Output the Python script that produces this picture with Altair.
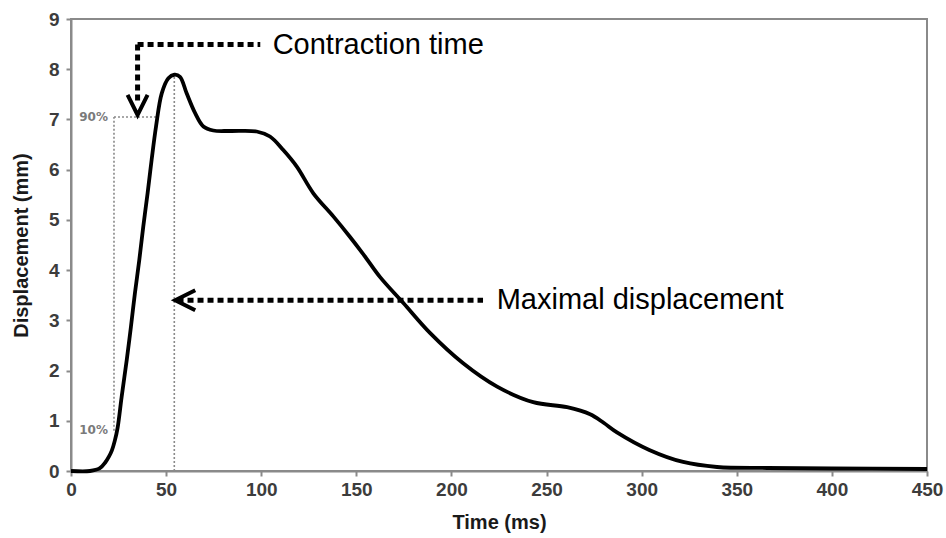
import altair as alt
import pandas as pd

# Twitch displacement trace
time_ms = [0, 10, 15, 18, 20, 21.5, 23, 24.5, 26.6, 29.3, 31.5, 33.6, 35.9, 38.0, 40.3,
           42.4, 44.7, 47.7, 51.2, 54.3, 57.3, 60.8, 65.2, 69.6, 74.8, 83.6, 97.6, 104.6,
           111.6, 118.7, 127.4, 137.9, 146.7, 154, 162.5, 174.6, 188.7, 206, 224, 243,
           260.8, 272.9, 280, 287, 304, 321.8, 339.6, 366, 400, 450]
displacement_mm = [0, 0, 0.05, 0.17, 0.29, 0.41, 0.6, 0.86, 1.47, 2.21, 2.87, 3.54, 4.2,
                   4.87, 5.54, 6.2, 6.86, 7.52, 7.82, 7.89, 7.85, 7.52, 7.13, 6.86, 6.78,
                   6.77, 6.76, 6.66, 6.39, 6.06, 5.53, 5.07, 4.66, 4.3, 3.86, 3.35, 2.75,
                   2.15, 1.68, 1.37, 1.27, 1.13, 0.96, 0.77, 0.42, 0.18, 0.08, 0.06, 0.05,
                   0.04]

# Thin grey guides: 10%-90% rise and time of peak
guide_x = [22.6, 22.6, 54.3]
guide_x2 = [22.6, 45.0, 54.3]
guide_y = [0.8, 7.05, 0.0]
guide_y2 = [7.05, 7.05, 7.89]

pct_x = [22.6, 22.6]
pct_y = [7.05, 0.82]
pct_text = ["90%", "10%"]

# Heavy dotted callout arrows
arrow_x = [35.0, 35.0, 56.0]
arrow_x2 = [35.0, 99.5, 216.6]
arrow_y = [8.49, 8.49, 3.4]
arrow_y2 = [7.35, 8.49, 3.4]

down_tip_x, down_tip_y = [35.0], [7.09]
left_tip_x, left_tip_y = [54.8], [3.4]

callout_x = [106.0, 223.8]
callout_y = [8.49, 3.4]
callout_text = ["Contraction time", "Maximal displacement"]

x_ticks = list(range(0, 451, 50))
y_ticks = list(range(0, 10))

trace = pd.DataFrame({"t": time_ms, "d": displacement_mm})
guides = pd.DataFrame({"x": guide_x, "x2": guide_x2, "y": guide_y, "y2": guide_y2})
pcts = pd.DataFrame({"x": pct_x, "y": pct_y, "label": pct_text})
arrows = pd.DataFrame({"x": arrow_x, "x2": arrow_x2, "y": arrow_y, "y2": arrow_y2})
down_tip = pd.DataFrame({"x": down_tip_x, "y": down_tip_y})
left_tip = pd.DataFrame({"x": left_tip_x, "y": left_tip_y})
callouts = pd.DataFrame({"x": callout_x, "y": callout_y, "label": callout_text})

xs = alt.Scale(domain=[0, 450], nice=False)
ys = alt.Scale(domain=[0, 9], nice=False)

x_axis = alt.Axis(values=x_ticks, title="Time (ms)", labelFlush=False,
                  labelPadding=4, titlePadding=13)
y_axis = alt.Axis(values=y_ticks, title="Displacement (mm)", labelPadding=7,
                  titlePadding=17)

line = alt.Chart(trace).mark_line(
    color="black", strokeWidth=3.8, interpolate="catmull-rom"
).encode(
    x=alt.X("t:Q", scale=xs, axis=x_axis),
    y=alt.Y("d:Q", scale=ys, axis=y_axis),
)

guide_rules = alt.Chart(guides).mark_rule(
    color="#8a8a8a", strokeWidth=1.6, strokeDash=[2, 2]
).encode(
    x=alt.X("x:Q", scale=xs), x2="x2:Q",
    y=alt.Y("y:Q", scale=ys), y2="y2:Q",
)

pct_labels = alt.Chart(pcts).mark_text(
    align="right", baseline="middle", dx=-6, fontSize=12, fontWeight="bold",
    font="DejaVu Sans", color="#7a7a7a"
).encode(
    x=alt.X("x:Q", scale=xs), y=alt.Y("y:Q", scale=ys), text="label:N"
)

arrow_rules = alt.Chart(arrows).mark_rule(
    color="black", strokeWidth=5, strokeDash=[6, 4], strokeCap="butt"
).encode(
    x=alt.X("x:Q", scale=xs), x2="x2:Q",
    y=alt.Y("y:Q", scale=ys), y2="y2:Q",
)

down_head = alt.Chart(down_tip).mark_point(
    shape="M-1,-2L0,0L1,-2", size=400, filled=False, stroke="black",
    strokeWidth=4, opacity=1
).encode(x=alt.X("x:Q", scale=xs), y=alt.Y("y:Q", scale=ys))

left_head = alt.Chart(left_tip).mark_point(
    shape="M2,-1L0,0L2,1", size=400, filled=False, stroke="black",
    strokeWidth=4, opacity=1
).encode(x=alt.X("x:Q", scale=xs), y=alt.Y("y:Q", scale=ys))

callout_labels = alt.Chart(callouts).mark_text(
    align="left", baseline="middle", fontSize=29,
    font="Liberation Sans, Arial, sans-serif", color="black"
).encode(
    x=alt.X("x:Q", scale=xs), y=alt.Y("y:Q", scale=ys), text="label:N"
)

chart = alt.layer(
    guide_rules, pct_labels, line, arrow_rules, down_head, left_head, callout_labels
).properties(
    width=856, height=452,
    padding={"left": 71, "top": 19, "right": 19, "bottom": 67},
    autosize=alt.AutoSizeParams(type="none"),
    background="white",
).configure_view(
    stroke="#8a8a8a", strokeWidth=2
).configure_axis(
    grid=False,
    labelFont="Liberation Sans, Arial, sans-serif", labelFontSize=19,
    labelFontWeight="bold", labelColor="#3c3c3c",
    titleFont="Liberation Sans, Arial, sans-serif", titleFontSize=20,
    titleFontWeight="bold", titleColor="#1a1a1a",
    domainColor="#8a8a8a", domainWidth=2,
    tickColor="#8a8a8a", tickWidth=2, tickSize=5,
)

chart.save("out.html", embed_options={"renderer": "svg", "actions": False})
